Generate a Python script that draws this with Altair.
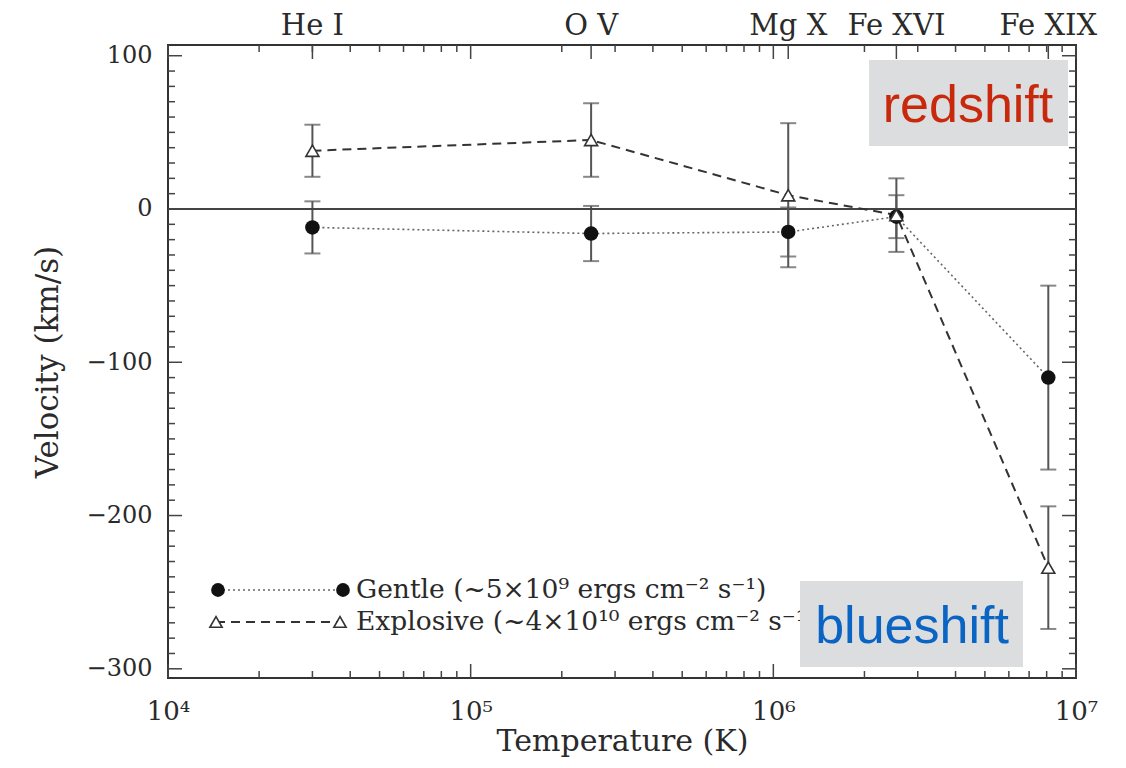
import altair as alt
import pandas as pd

# ---- data ----
ions = ["He I", "O V", "Mg X", "Fe XVI", "Fe XIX"]
temperature = [3.0e4, 2.5e5, 1.12e6, 2.55e6, 8.1e6]
gentle_v = [-12, -16, -15, -5, -110]
gentle_err = [17, 18, 16, 14, 60]
explosive_v = [38, 45, 9, -4, -234]
explosive_err = [17, 24, 47, 24, 40]

x_major = [1e4, 1e5, 1e6, 1e7]
y_labels = [-300, -200, -100, 0, 100]

W, H = 908, 633
SERIF = "DejaVu Serif"
SANS = "Liberation Sans"
INK = "#2a2a2a"

xs = alt.Scale(type="log", domain=[1e4, 1e7], nice=False)
ys = alt.Scale(domain=[-306, 107], nice=False, zero=False)

df = pd.DataFrame({
    "ion": ions, "T": temperature,
    "gv": gentle_v, "ge": gentle_err,
    "ev": explosive_v, "ee": explosive_err,
})
df["glo"] = df["gv"] - df["ge"]
df["ghi"] = df["gv"] + df["ge"]
df["elo"] = df["ev"] - df["ee"]
df["ehi"] = df["ev"] + df["ee"]

caps = pd.DataFrame({
    "T": list(df["T"]) * 4,
    "v": list(df["glo"]) + list(df["ghi"]) + list(df["elo"]) + list(df["ehi"]),
})

xaxis = alt.Axis(
    values=x_major,
    labelExpr="'10' + ['⁰','¹','²','³','⁴','⁵','⁶','⁷','⁸','⁹'][round(log(datum.value)/LN10)]",
    ticks=False, domain=False, grid=False,
    labelFont=SERIF, labelFontSize=26, labelColor=INK, labelPadding=20,
    labelFlush=False, labelOverlap=False, labelBound=False,
    title="Temperature (K)", titleFont=SERIF, titleFontSize=30,
    titleFontWeight="normal", titleColor=INK, titlePadding=2,
)
yaxis = alt.Axis(
    values=y_labels, ticks=False, domain=False, grid=False,
    labelFont=SERIF, labelFontSize=24, labelColor=INK, labelPadding=16,
    labelFlush=False, labelOverlap=False,
    title="Velocity (km/s)", titleFont=SERIF, titleFontSize=31,
    titleFontWeight="normal", titleColor=INK, titlePadding=22,
)


def X(field):
    return alt.X(field, scale=xs, axis=xaxis)


def Y(field):
    return alt.Y(field, scale=ys, axis=yaxis)


# error bars
err_g = alt.Chart(df).mark_rule(color="#555", strokeWidth=2).encode(
    x=X("T:Q"), y=Y("glo:Q"), y2="ghi:Q")
err_e = alt.Chart(df).mark_rule(color="#555", strokeWidth=2).encode(
    x=X("T:Q"), y=Y("elo:Q"), y2="ehi:Q")
cap_layer = alt.Chart(caps).mark_tick(orient="horizontal", size=16, thickness=2, color="#555").encode(
    x=X("T:Q"), y=Y("v:Q"))

zero = alt.Chart(pd.DataFrame({"v": [0]})).mark_rule(color="#444", strokeWidth=2).encode(y=Y("v:Q"))

line_g = alt.Chart(df).mark_line(color="#666", strokeWidth=1.6, strokeDash=[2, 3]).encode(
    x=X("T:Q"), y=Y("gv:Q"))
line_e = alt.Chart(df).mark_line(color="#333", strokeWidth=2, strokeDash=[9, 6]).encode(
    x=X("T:Q"), y=Y("ev:Q"))
pts_g = alt.Chart(df).mark_point(shape="circle", filled=True, size=210, color="#111", opacity=1).encode(
    x=X("T:Q"), y=Y("gv:Q"))
pts_e = alt.Chart(df).mark_point(shape="triangle-up", filled=True, fill="white", stroke="#333",
                                 strokeWidth=1.6, size=170, opacity=1).encode(
    x=X("T:Q"), y=Y("ev:Q"))

# inward ticks (IDL style) on all four sides
y_minor = [v for v in range(-300, 101, 10) if v % 100 != 0]
x_minor = [m * 10 ** e for e in (4, 5, 6) for m in range(2, 10)]
tick_layers = []
for vals, L in ((y_minor, 7), (y_labels, 14)):
    d = pd.DataFrame({"v": vals})
    tick_layers.append(alt.Chart(d).mark_rule(color="#444", strokeWidth=1.5).encode(
        y=Y("v:Q"), x=alt.value(0), x2=alt.value(L)))
    tick_layers.append(alt.Chart(d).mark_rule(color="#444", strokeWidth=1.5).encode(
        y=Y("v:Q"), x=alt.value(W - L), x2=alt.value(W)))
for vals, L in ((x_minor, 7), (x_major, 14), (temperature, 14)):
    d = pd.DataFrame({"t": vals})
    tick_layers.append(alt.Chart(d).mark_rule(color="#444", strokeWidth=1.5).encode(
        x=X("t:Q"), y=alt.value(0), y2=alt.value(L)))
for vals, L in ((x_minor, 7), (x_major, 14)):
    d = pd.DataFrame({"t": vals})
    tick_layers.append(alt.Chart(d).mark_rule(color="#444", strokeWidth=1.5).encode(
        x=X("t:Q"), y=alt.value(H), y2=alt.value(H - L)))

# ion labels on top
ion_text = alt.Chart(df).mark_text(font=SERIF, fontSize=29, color=INK, baseline="middle").encode(
    x=X("T:Q"), y=alt.value(-19), text="ion:N")

# legend (inside plot, bottom-left)
leg_labels = ["Gentle (~5×10⁹ ergs cm⁻² s⁻¹)", "Explosive (~4×10¹⁰ ergs cm⁻² s⁻¹)"]
leg_rows = pd.DataFrame({"py": [545, 577], "label": leg_labels})
leg_g_line = alt.Chart(leg_rows.iloc[[0]]).mark_rule(color="#666", strokeWidth=1.6, strokeDash=[2, 3]).encode(
    x=alt.value(50), x2=alt.value(175), y=alt.Y("py:Q", scale=None))
leg_e_line = alt.Chart(leg_rows.iloc[[1]]).mark_rule(color="#333", strokeWidth=2, strokeDash=[9, 6]).encode(
    x=alt.value(48), x2=alt.value(172), y=alt.Y("py:Q", scale=None))
leg_pts = pd.DataFrame({"px": [50, 175], "py": [545, 545]})
leg_tri = pd.DataFrame({"px": [48, 172], "py": [577, 577]})
leg_g_pts = alt.Chart(leg_pts).mark_point(shape="circle", filled=True, size=190, color="#111", opacity=1).encode(
    x=alt.X("px:Q", scale=None), y=alt.Y("py:Q", scale=None))
leg_e_pts = alt.Chart(leg_tri).mark_point(shape="triangle-up", filled=True, fill="white", stroke="#333",
                                          strokeWidth=1.6, size=150, opacity=1).encode(
    x=alt.X("px:Q", scale=None), y=alt.Y("py:Q", scale=None))
leg_text = alt.Chart(leg_rows).mark_text(font=SERIF, fontSize=26.5, color=INK, align="left", baseline="middle").encode(
    x=alt.value(188), y=alt.Y("py:Q", scale=None), text="label:N")

# annotation boxes
boxes = pd.DataFrame({"x1": [701, 632], "x2": [900, 855], "y1": [15, 536], "y2": [101, 622]})
box_layer = alt.Chart(boxes).mark_rect(color="#dcdddf").encode(
    x=alt.X("x1:Q", scale=None), x2="x2:Q", y=alt.Y("y1:Q", scale=None), y2="y2:Q")
ann = pd.DataFrame({"px": [800, 744], "py": [77, 598], "label": ["redshift", "blueshift"],
                    "col": ["#c8280c", "#0a64c4"]})
ann_layer = alt.Chart(ann).mark_text(font=SANS, fontSize=52, align="center", baseline="alphabetic").encode(
    x=alt.X("px:Q", scale=None), y=alt.Y("py:Q", scale=None), text="label:N",
    color=alt.Color("col:N", scale=None))

chart = alt.layer(
    err_g, zero, err_e, cap_layer, line_g, line_e, pts_g, pts_e,
    *tick_layers, ion_text,
    leg_g_line, leg_e_line, leg_g_pts, leg_e_pts, leg_text,
    box_layer, ann_layer,
).properties(
    width=W, height=H,
    padding={"left": 160, "top": 37, "right": 42, "bottom": 80},
    autosize=alt.AutoSizeParams(type="none"),
).configure_view(stroke="#333", strokeWidth=2)

chart.save("out.html", embed_options={"renderer": "svg", "actions": False})
